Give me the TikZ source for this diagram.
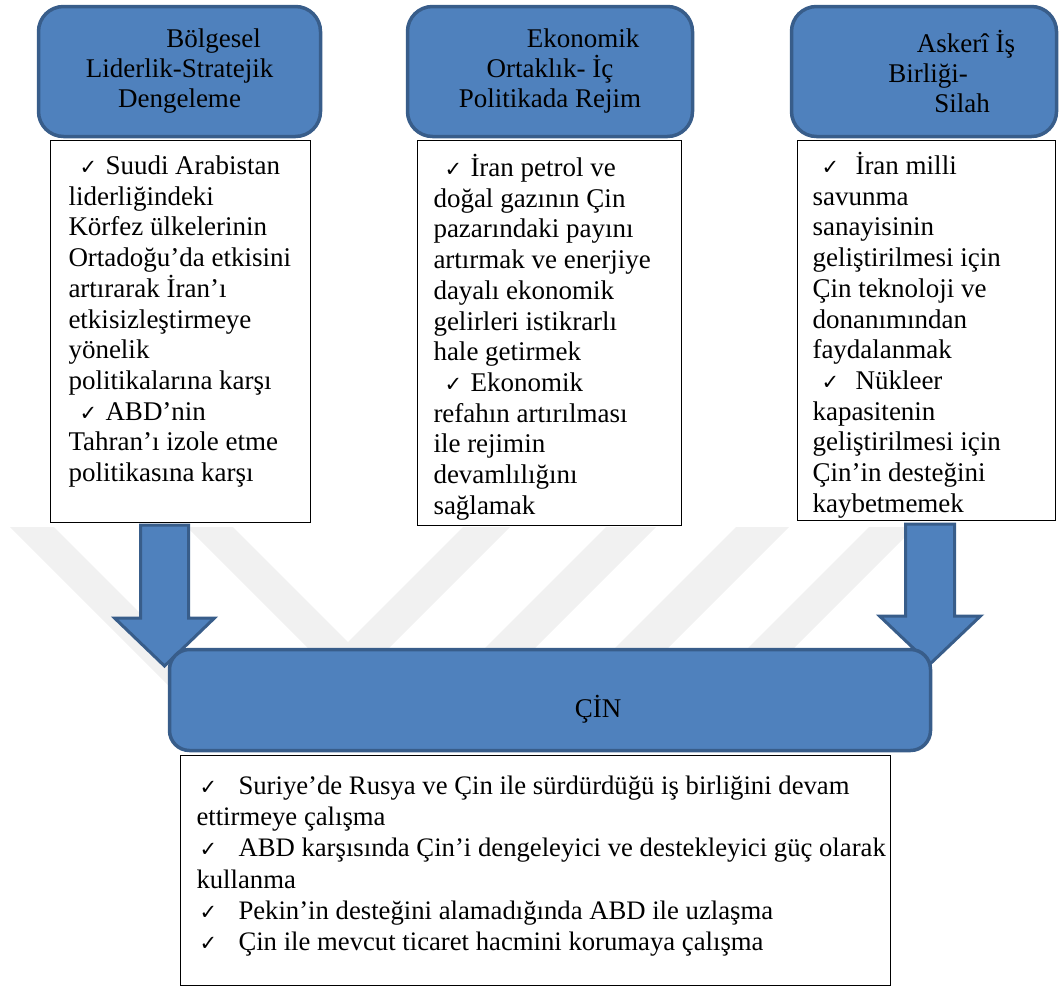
\documentclass[tikz,border=0pt]{standalone}
\usepackage{fontspec}
\setmainfont{Liberation Serif}
\newfontfamily\chkfont{DejaVu Sans}
\usetikzlibrary{calc}
\definecolor{hfill}{HTML}{4F81BD}
\definecolor{hline}{HTML}{385D8A}
\definecolor{wmark}{HTML}{F1F1F1}
% check mark: #1 indent before, #2 total width before text
\newcommand\ck[2]{\makebox[#2pt][l]{\hspace*{#1pt}{\chkfont\fontsize{21}{21}\selectfont ✓}}}
% text block: width, height, left skip, first baseline, content
\newcommand\tb[5]{\parbox[t][#2pt][t]{#1pt}{\leftskip=#3pt\rightskip=0pt plus 1fil\parindent=0pt\rule{0pt}{#4pt}#5}}
\hbadness=10000
\begin{document}
\begin{tikzpicture}[x=1pt,y=-1pt,
  hdr/.style={draw=hline, fill=hfill, line width=3.5pt, rounded corners=25pt,
    align=center, inner sep=0pt, font=\fontsize{27}{30}\selectfont},
  cinbox/.style={draw=hline, fill=hfill, line width=3.5pt, rounded corners=20pt,
    inner sep=0pt, font=\fontsize{27}{30}\selectfont},
  tbox/.style={draw=black, line width=1pt, fill=white, anchor=north west, inner sep=0pt,
    font=\fontsize{27}{30.7}\selectfont},
  bbox/.style={tbox, font=\fontsize{26.7}{31.2}\selectfont},
  barrow/.style={fill=hfill, draw=hline, line width=3pt, line join=miter},
  wmband/.style={fill=wmark}]
\useasboundingbox (0,0) rectangle (1059,988);

% faint background watermark bands
\begin{scope}
  \clip (0,527) rectangle (1059,700);
  \foreach \a/\b in {10/54,187/233}
    \fill[wmband] (\a,527) -- (\b,527) -- ++(300,300) -- ++(\a-\b,0) -- cycle;
  \foreach \a/\b in {463/510,606/656,736/789,869/915}
    \fill[wmband] (\a,527) -- (\b,527) -- ++(-300,300) -- ++(\a-\b,0) -- cycle;
\end{scope}

% text boxes under the headers
\node[tbox] (t1) at (50,140) {\tb{260}{382}{18}{34}{%
\ck{11}{37}Suudi Arabistan\\
liderliğindeki\\
Körfez ülkelerinin\\
Ortadoğu’da etkisini\\
artırarak İran’ı\\
etkisizleştirmeye\\
yönelik\\
politikalarına karşı\\
\ck{11}{37}ABD’nin\\
Tahran’ı izole etme\\
politikasına karşı}};

\node[tbox] (t2) at (417,140) {\tb{264}{385}{16}{36}{%
\ck{11}{37}İran petrol ve\\
doğal gazının Çin\\
pazarındaki payını\\
artırmak ve enerjiye\\
dayalı ekonomik\\
gelirleri istikrarlı\\
hale getirmek\\
\ck{11}{37}Ekonomik\\
refahın artırılması\\
ile rejimin\\
devamlılığını\\
sağlamak}};

\node[tbox] (t3) at (797,140) {\tb{258}{380}{15}{34}{%
\ck{9}{43}İran milli\\
savunma\\
sanayisinin\\
geliştirilmesi için\\
Çin teknoloji ve\\
donanımından\\
faydalanmak\\
\ck{9}{43}Nükleer\\
kapasitenin\\
geliştirilmesi için\\
Çin’in desteğini\\
kaybetmemek}};

% header boxes
\node[hdr, minimum width=282, minimum height=130] (h1) at (179.5,71.5)
  {\hspace*{68pt}Bölgesel\\Liderlik-Stratejik\\Dengeleme};
\node[hdr, minimum width=285, minimum height=130] (h2) at (550,71.5)
  {\hspace*{66pt}Ekonomik\\Ortaklık- İç\\Politikada Rejim};
\node[hdr, minimum width=265, minimum height=130] (h3) at (924,71.5)
  {\hspace*{84pt}Askerî İş\\\hspace*{8pt}Birliği-\\\hspace*{76pt}Silah};

% block arrows from the side boxes to ÇİN
\coordinate (a1) at ($(t1.south west)+(114.5,2)$);
\coordinate (a2) at ($(t3.south west)+(133,3)$);
\draw[barrow] (a1) -- ++(-24,0) -- ++(0,93) -- ++(-26,0) -- ++(50,48)
  -- ++(50,-48) -- ++(-26,0) -- ++(0,-93) -- cycle;
\draw[barrow] (a2) -- ++(-24.5,0) -- ++(0,92) -- ++(-26,0) -- ++(50.5,48)
  -- ++(50.5,-48) -- ++(-26,0) -- ++(0,-92) -- cycle;

% central box
\node[cinbox, minimum width=761, minimum height=101, text height=34pt, text depth=0pt]
  (cin) at (550,700) {\hspace*{96pt}ÇİN};

% bottom box
\node[bbox] (t4) at (180,755) {\tb{710}{230}{16}{39}{%
\ck{3}{42}Suriye’de Rusya ve Çin ile sürdürdüğü iş birliğini devam\\
ettirmeye çalışma\\
\ck{3}{42}ABD karşısında Çin’i dengeleyici ve destekleyici güç olarak\\
kullanma\\
\ck{3}{42}Pekin’in desteğini alamadığında ABD ile uzlaşma\\
\ck{3}{42}Çin ile mevcut ticaret hacmini korumaya çalışma}};
\end{tikzpicture}
\end{document}
